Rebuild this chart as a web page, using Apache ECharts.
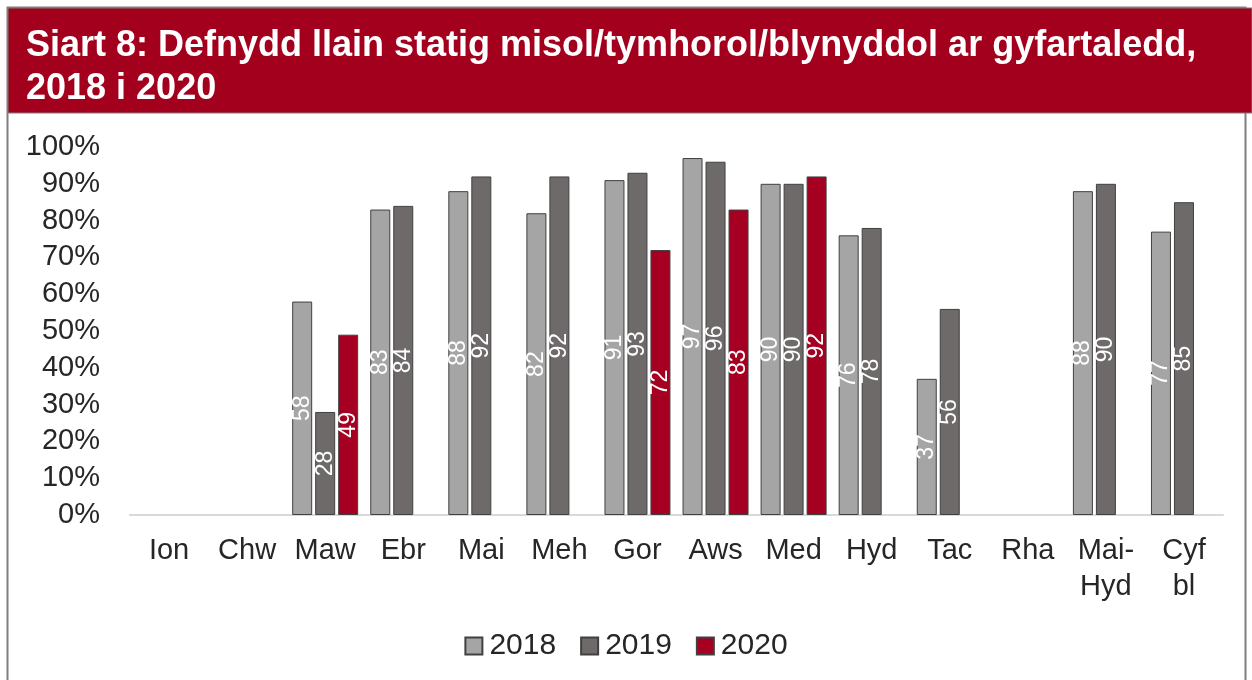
<!DOCTYPE html>
<html lang="cy">
  <head>
    <meta charset="UTF-8" />
    <title>Siart 8</title>
    <script src="https://cdn.jsdelivr.net/npm/echarts@6/dist/echarts.min.js"></script>
    <style>
      html, body { margin: 0; padding: 0; background: #fff; }
      #main { width: 1252px; height: 680px; }
    </style>
  </head>
  <body>
    <div id="main"></div>
  </body>
  <script>
    // categorïau
    const categories = ["Ion", "Chw", "Maw", "Ebr", "Mai", "Meh", "Gor", "Aws", "Med", "Hyd", "Tac", "Rha", "Mai-\nHyd", "Cyf\nbl"];
    const yearNames = ["2018", "2019", "2020"];
    // gwerthoedd (%)
    const data2018 = [null, null, 58, 83, 88, 82, 91, 97, 90, 76, 37, null, 88, 77];
    const data2019 = [null, null, 28, 84, 92, 92, 93, 96, 90, 78, 56, null, 90, 85];
    const data2020 = [null, null, 49, null, null, null, 72, 83, 92, null, null, null, null, null];
    const yTicks = [0, 10, 20, 30, 40, 50, 60, 70, 80, 90, 100];

    const colors = ["#a5a5a5", "#6e6a6a", "#a50021"];
    const font = "'Liberation Sans', Arial, sans-serif";

    function barSeries(name, values, color) {
      return {
        name: name,
        type: "bar",
        data: values,
        barWidth: 20,
        barGap: "15%",
        itemStyle: { color: color, borderColor: "#404040", borderWidth: 1 },
        label: {
          show: true,
          position: "inside",
          rotate: 90,
          color: "#fff",
          fontFamily: font,
          fontSize: 23,
          formatter: function (p) { return p.value; },
        },
      };
    }

    var myChart = echarts.init(document.getElementById("main"));
    var option = {
      animation: false,
      textStyle: { fontFamily: font },
      graphic: [
        {
          type: "rect",
          shape: { x: 7.5, y: 7.5, width: 1238, height: 690 },
          style: { fill: "#fff", stroke: "#7f7f7f", lineWidth: 2 },
          z: -10,
        },
        {
          type: "rect",
          shape: { x: 8, y: 8, width: 1244, height: 105 },
          style: { fill: "#a2001d", stroke: "#7f7f7f", lineWidth: 1 },
          z: -5,
        },
        {
          type: "text",
          left: 26,
          top: 25,
          style: {
            text: "Siart 8: Defnydd llain statig misol/tymhorol/blynyddol ar gyfartaledd,\n2018 i 2020",
            fill: "#fff",
            font: "bold 36px " + font,
            lineHeight: 43,
          },
        },
      ],
      legend: {
        data: yearNames,
        top: 626,
        left: "center",
        itemWidth: 17,
        itemHeight: 17,
        itemGap: 24,
        icon: "rect",
        textStyle: { fontSize: 30, color: "#262626", fontFamily: font, padding: [0, 0, 0, 2] },
      },
      grid: { left: 130, right: 29, top: 147, bottom: 165 },
      xAxis: {
        type: "category",
        data: categories,
        axisLine: { lineStyle: { color: "#d9d9d9", width: 2 } },
        axisTick: { show: false },
        axisLabel: {
          interval: 0,
          color: "#262626",
          fontSize: 29,
          lineHeight: 36,
          margin: 18,
          verticalAlign: "top",
          fontFamily: font,
        },
      },
      yAxis: {
        type: "value",
        min: 0,
        max: 100,
        interval: 10,
        axisLine: { show: false },
        axisTick: { show: false },
        splitLine: { show: false },
        axisLabel: {
          color: "#262626",
          fontSize: 29,
          margin: 30,
          fontFamily: font,
          formatter: function (v) { return yTicks.indexOf(v) >= 0 ? v + "%" : ""; },
        },
      },
      series: [
        barSeries(yearNames[0], data2018, colors[0]),
        barSeries(yearNames[1], data2019, colors[1]),
        barSeries(yearNames[2], data2020, colors[2]),
      ],
    };
    myChart.setOption(option);
  </script>
</html>
